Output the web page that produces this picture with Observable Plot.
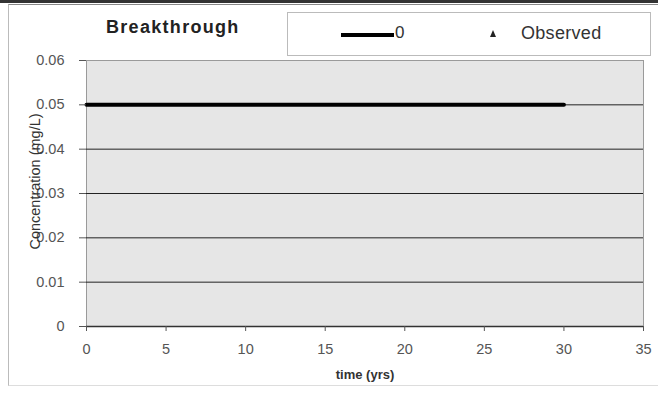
<!DOCTYPE html>
<html>
<head>
<meta charset="utf-8">
<script src="https://cdn.jsdelivr.net/npm/d3@7"></script>
<script src="https://cdn.jsdelivr.net/npm/@observablehq/plot@0.6"></script>
<style>
  html, body { margin: 0; padding: 0; background: #fff; }
  #chart { position: relative; width: 658px; height: 393px; font-family: "Liberation Sans", Arial, sans-serif; }
  #chart svg { position: absolute; left: 0; top: 0; }
  #outer { position: absolute; left: 8px; top: 4px; width: 660px; height: 380px; border-left: 1px solid #bbb; border-top: 1px solid #888; border-bottom: 1px solid #ddd; }
  #topbar { position: absolute; left: 0; top: 0; width: 658px; height: 3px; background: #333; }
  #title { position: absolute; left: 106px; top: 17px; font-size: 18px; font-weight: bold; letter-spacing: 1.3px; color: #222; }
  #legend { position: absolute; left: 287px; top: 12px; width: 362px; height: 42px; border: 1px solid #bbb; background: #fff; font-size: 18px; color: #333; }
  #legend .sw { position: absolute; left: 53px; top: 20px; width: 53px; height: 4px; background: #000; }
  #legend .l0 { position: absolute; left: 107px; top: 10px; font-size: 17px; }
  #legend .tri { position: absolute; left: 202px; top: 17px; width: 0; height: 0; border-left: 3.5px solid transparent; border-right: 3.5px solid transparent; border-bottom: 7px solid #222; }
  #legend .lobs { position: absolute; left: 233px; top: 10px; letter-spacing: 0.3px; }
</style>
</head>
<body>
<div id="chart">
  <div id="outer"></div>
  <div id="topbar"></div>
</div>
<script>
// Breakthrough curve: simulated series "0" and observed concentrations
const seriesTime = [0, 30];
const seriesConc = [0.05, 0.05];
const observedTime = [];
const observedConc = [];
const xTicks = [0, 5, 10, 15, 20, 25, 30, 35];
const yTicks = [0, 0.01, 0.02, 0.03, 0.04, 0.05, 0.06];

const series = seriesTime.map((t, i) => ({t, c: seriesConc[i]}));
const observed = observedTime.map((t, i) => ({t, c: observedConc[i]}));

const fmtY = d => d === 0 ? "0" : d.toFixed(2);

const plot = Plot.plot({
  width: 658,
  height: 393,
  marginLeft: 86,
  marginRight: 15,
  marginTop: 60,
  marginBottom: 67,
  style: {fontFamily: "'Liberation Sans', Arial, sans-serif", fontSize: "14.5px", color: "#555", background: "transparent"},
  x: {domain: [0, 35]},
  y: {domain: [0, 0.06]},
  marks: [
    Plot.frame({fill: "#e6e6e6", stroke: "#9a9a9a"}),
    Plot.ruleY(yTicks.filter(v => v > 0 && v < 0.06), {stroke: "#222", strokeWidth: 1}),
    Plot.ruleY([0], {stroke: "#333", strokeWidth: 1.3}),
    Plot.line(series, {x: "t", y: "c", stroke: "#000", strokeWidth: 4}),
    Plot.dot(observed, {x: "t", y: "c", symbol: "triangle", fill: "#222", r: 4}),
    Plot.axisX({ticks: xTicks, tickFormat: d => String(d), tickSize: 5, tickPadding: 12, fill: "#555", label: null}),
    Plot.axisY({ticks: yTicks, tickFormat: fmtY, tickSize: 7, tickPadding: 15, fill: "#555", label: null}),
    Plot.text(["time (yrs)"], {frameAnchor: "bottom", dy: 52, fontSize: 13, fontWeight: "bold", fill: "#333"}),
    Plot.text(["Concentration (mg/L)"], {frameAnchor: "left", dx: -51, dy: -12, rotate: -90, textAnchor: "middle", fontSize: 14.5, letterSpacing: "1.1px", fill: "#333"})
  ]
});

const chart = document.getElementById("chart");
chart.appendChild(plot);

const title = document.createElement("div");
title.id = "title";
title.textContent = "Breakthrough";
chart.appendChild(title);

const legend = document.createElement("div");
legend.id = "legend";
legend.innerHTML = '<div class="sw"></div><div class="l0">0</div><div class="tri"></div><div class="lobs">Observed</div>';
chart.appendChild(legend);
</script>
</body>
</html>
